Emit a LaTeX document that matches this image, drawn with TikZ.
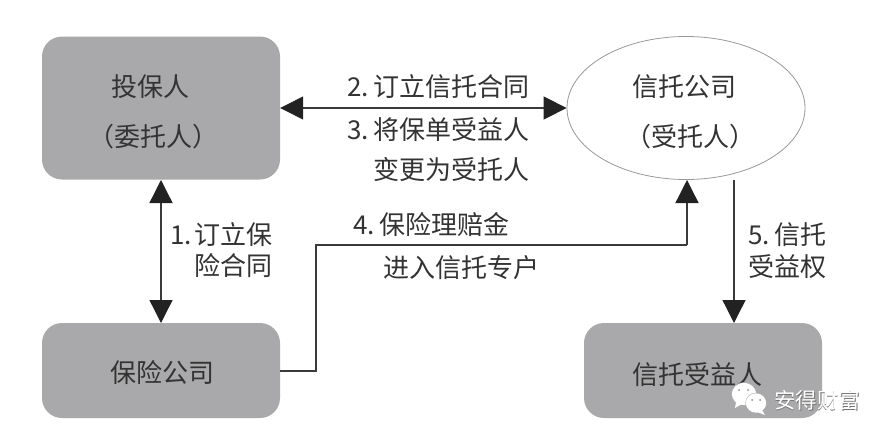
\documentclass[tikz,border=0pt]{standalone}
\usepackage{fontspec}
\setmainfont{Noto Sans CJK SC}
\usetikzlibrary{arrows.meta,shapes.geometric}
\definecolor{boxgray}{HTML}{A9A9AB}
\definecolor{linegray}{HTML}{3A3A3A}
\definecolor{tipgray}{HTML}{222222}
\tikzset{
 x=1pt,y=-1pt,
 graybox/.style={fill=boxgray,rounded corners=20pt,inner sep=0pt,draw=none},
 txt/.style={font=\fontsize{26}{26}\selectfont,text=black!80,inner sep=0pt,anchor=center},
 rtxt/.style={txt,anchor=east},
 conn/.style={draw=linegray,line width=1.3pt},
 tip/.style={-{Triangle[length=23pt,width=23pt,color=tipgray]}},
 tips/.style={{Triangle[length=23pt,width=23pt,color=tipgray]}-{Triangle[length=23pt,width=23pt,color=tipgray]}},
 mark text/.style={font=\fontsize{21.5}{21.5}\selectfont,inner sep=0pt,anchor=west},
 bubble/.style={fill=white,draw=black!40,line width=.3pt},
 eye/.style={fill=black!45},
}
\begin{document}
\begin{tikzpicture}
\useasboundingbox (0,0) rectangle (890,439);
\fill[white] (0,0) rectangle (890,439);
\node[graybox,minimum width=238pt,minimum height=143pt] (tb) at (161,108) {};
\node[graybox,minimum width=238pt,minimum height=95pt] (bx) at (161,370.5) {};
\node[graybox,minimum width=238pt,minimum height=95pt] (sy) at (703,370.5) {};
\node[ellipse,draw=black!40,line width=.8pt,fill=white,minimum width=238pt,minimum height=143pt,inner sep=0pt] (xt) at (686,108) {};
\node[txt] at (150,87) {投保人};
\node[txt] at (153,137) {（委托人）};
\node[txt] at (162,373) {保险公司};
\node[txt] at (684,87) {信托公司};
\node[txt] at (690,137) {（受托人）};
\node[txt] at (697,375) {信托受益人};
\node[rtxt] at (530,87) {2.\hspace{5pt}订立信托合同};
\node[rtxt] at (530,130) {3.\hspace{5pt}将保单受益人};
\node[rtxt] at (530,170) {变更为受托人};
\node[rtxt] at (273,235) {1.\hspace{3pt}订立保};
\node[rtxt] at (273,266) {险合同};
\node[rtxt] at (510,225) {4.\hspace{5pt}保险理赔金};
\node[rtxt] at (540,268) {进入信托专户};
\node[rtxt] at (827,235) {5.\hspace{5pt}信托};
\node[rtxt] at (827,267) {受益权};
% watermark
\path[bubble] (744,394) ellipse (12.5pt and 11.5pt);
\fill[white] (736,402) -- (735,408) -- (742,404) -- cycle;
\path[bubble] (756,403) ellipse (10.5pt and 10pt);
\fill[white] (762,410) -- (765,415) -- (757,412) -- cycle;
\fill[eye] (739,390) circle (1pt) (748,390) circle (1pt) (752,400) circle (1pt) (760,400) circle (1pt);
\node[mark text,text=black!55] at (774.7,401) {安得财富};
\node[mark text,text=white] at (774,400.4) {安得财富};
\coordinate (turn1) at (316,371);
\coordinate (turn2) at (316,245);
\coordinate (turn3) at (687,245);
\coordinate (tipA) at (161,180);
\coordinate (tipB) at (161,323);
\coordinate (xtBot) at (687,180);
\coordinate (trustOut) at (734,180);
\coordinate (syTop) at (734,323);
\coordinate (bxR) at (280,371);
\draw[conn,tips] (tb.east) -- (xt.west);
\draw[conn,tips] (tipA) -- (tipB);
\draw[conn] (bxR) -- (turn1) -- (turn2) -- (turn3);
\draw[conn,tip] (turn3) -- (xtBot);
\draw[conn,tip] (trustOut) -- (syTop);
\end{tikzpicture}
\end{document}
